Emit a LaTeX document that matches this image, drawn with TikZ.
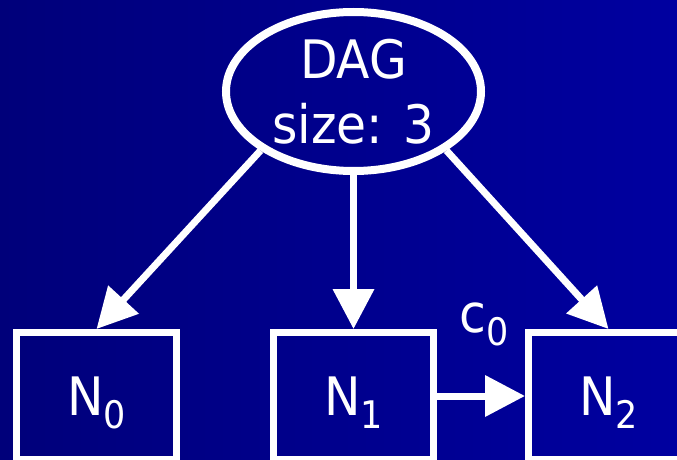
\documentclass[tikz,border=0pt]{standalone}
\usepackage{fontspec}
\setmainfont{DejaVu Sans}[FakeStretch=0.92]
\usetikzlibrary{shapes.geometric,arrows.meta}
\definecolor{bgleft}{RGB}{0,0,122}
\definecolor{bgright}{RGB}{0,0,160}
\newcommand{\lowsub}[1]{\raisebox{-13.5pt}[0pt][0pt]{\fontsize{38}{38}\selectfont #1}}
\begin{document}
\begin{tikzpicture}[x=1pt,y=-1pt,
  bigtext/.style={text=white,font=\fontsize{53}{65}\selectfont},
  dagnode/.style={bigtext,draw=white,line width=8pt,ellipse,inner sep=0pt,
    minimum width=255pt,minimum height=159pt,align=center},
  boxnode/.style={bigtext,draw=white,line width=7pt,rectangle,inner sep=0pt,
    minimum width=160pt,minimum height=127pt},
  link/.style={draw=white,line width=7pt,-{Triangle[length=40pt,width=40pt]}}]
\useasboundingbox (0,0) rectangle (677,460);
\clip (0,0) rectangle (677,460);
\shade[left color=bgleft,right color=bgright] (0,0) rectangle (677,460);
\node[dagnode] (dag) at (353.5,91.5) {DAG\\size: 3};
\node[boxnode] (n0) at (96.5,396) {N\lowsub{0}};
\node[boxnode] (n1) at (353.5,396) {N\lowsub{1}};
\node[boxnode] (n2) at (608.5,396) {N\lowsub{2}};
\node[bigtext,anchor=base west,inner sep=0pt] (c0) at (459,332) {c\lowsub{0}};
\draw[link] (dag.south west) -- (n0.north);
\draw[link] (dag.south) -- (n1.north);
\draw[link] (dag.south east) -- (n2.north);
\draw[link] (n1.east) -- (n2.west);
\end{tikzpicture}
\end{document}
